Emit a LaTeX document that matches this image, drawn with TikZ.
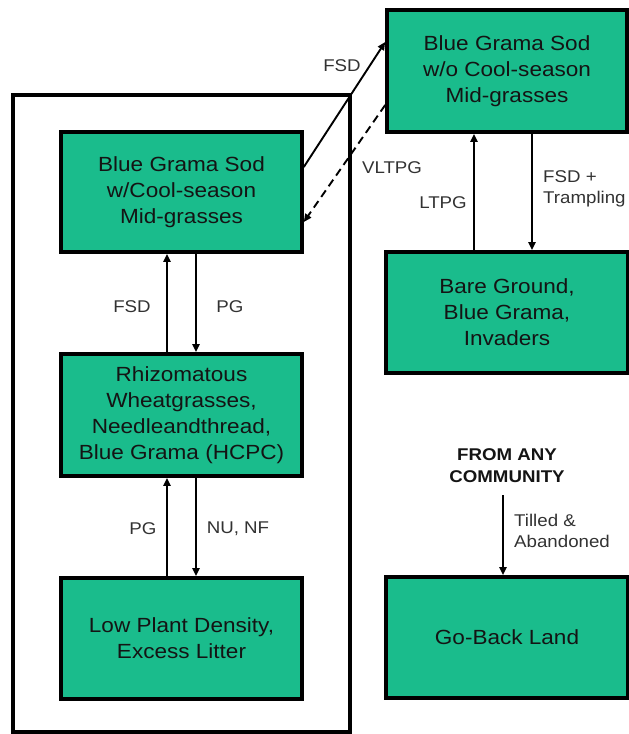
\documentclass[tikz,border=0pt]{standalone}
\usepackage{fontspec}
\setmainfont[FakeStretch=1.1]{Liberation Sans}
\usetikzlibrary{arrows.meta}
\definecolor{boxgreen}{RGB}{26,188,140}
\definecolor{txt}{RGB}{20,20,20}
\definecolor{lbl}{RGB}{50,50,50}
\tikzset{
  state/.style={draw=black, line width=3.6pt, fill=boxgreen, text=txt, align=center,
    font=\fontsize{20.5}{26}\selectfont, inner sep=0pt},
  lab/.style={text=lbl, font=\fontsize{17}{21}\selectfont, inner sep=0pt},
  conn/.style={line width=1.9pt, -{Triangle[length=8pt,width=7pt]}},
}
\begin{document}
\begin{tikzpicture}[x=1pt,y=1pt]
\useasboundingbox (0,0) rectangle (629,-734);
\draw[line width=3.8pt] (13,-95) rectangle (350,-732);
\node[state, minimum width=241pt, minimum height=120pt] (b1) at (181.5,-192) {Blue Grama Sod\\w/Cool-season\\Mid-grasses};
\node[state, minimum width=241pt, minimum height=122pt] (b2) at (181.5,-415) {Rhizomatous\\Wheatgrasses,\\Needleandthread,\\Blue Grama (HCPC)};
\node[state, minimum width=241pt, minimum height=121pt] (b3) at (181.5,-638.5) {Low Plant Density,\\Excess Litter};
\node[state, minimum width=240pt, minimum height=122pt] (tr) at (507,-71) {Blue Grama Sod\\w/o Cool-season\\Mid-grasses};
\node[state, minimum width=242pt, minimum height=121pt] (bg) at (507,-312.5) {Bare Ground,\\Blue Grama,\\Invaders};
\node[state, minimum width=242pt, minimum height=121pt] (gb) at (507,-637.5) {Go-Back Land};
\node[font=\bfseries\fontsize{17}{22}\selectfont, text=txt, align=center, inner sep=0pt] (any) at (507,-466) {FROM ANY\\COMMUNITY};
\coordinate (anyb) at (503,-495);

% arrows
\draw[conn] ([xshift=-14.5pt]b2.north) -- ([xshift=-14.5pt]b1.south);
\draw[conn] ([xshift=14.5pt]b1.south) -- ([xshift=14.5pt]b2.north);
\draw[conn] ([xshift=-14.5pt]b3.north) -- ([xshift=-14.5pt]b2.south);
\draw[conn] ([xshift=14.5pt]b2.south) -- ([xshift=14.5pt]b3.north);
\draw[conn] ([yshift=25pt]b1.east) -- ([yshift=29pt]tr.west);
\draw[conn, dash pattern=on 8pt off 5pt] ([yshift=-34pt]tr.west) -- ([yshift=-30pt]b1.east);
\draw[conn] ([xshift=-33pt]bg.north) -- ([xshift=-33pt]tr.south);
\draw[conn] ([xshift=25pt]tr.south) -- ([xshift=25pt]bg.north);
\draw[conn] (anyb) -- (anyb |- gb.north);

% labels
\node[lab] (l1) at (132,-307) {FSD};
\node[lab] (l2) at (230,-307) {PG};
\node[lab] (l3) at (143,-529) {PG};
\node[lab] (l4) at (238,-529) {NU, NF};
\node[lab] (l5) at (342,-66) {FSD};
\node[lab] (l6) at (392,-168) {VLTPG};
\node[lab] (l7) at (443,-203) {LTPG};
\node[lab, anchor=west, align=left] (l8) at (543,-189) {FSD +\\Trampling};
\node[lab, anchor=west, align=left] (l9) at (514,-531) {Tilled \&\\Abandoned};
\end{tikzpicture}
\end{document}
